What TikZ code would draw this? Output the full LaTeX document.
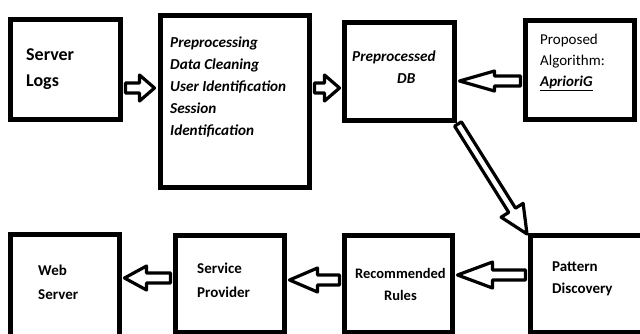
\documentclass[tikz,border=0pt]{standalone}
\usepackage{fontspec}
\setmainfont{Carlito}
\usetikzlibrary{calc}
\tikzset{
  box/.style={draw, line width=5pt, rectangle, inner sep=0pt},
  lab/.style={anchor=north west, inner sep=0pt, align=left},
  fat/.style n args={3}{draw, line width=3.2pt, fill=white, line join=round,
    to path={let \p1=(\tikztostart), \p2=(\tikztotarget),
      \n1={atan2(\y2-\y1,\x2-\x1)} in
      ($(\p1)+(\n1+90:#1)$) -- ($(\p2)+(\n1+180:#3)+(\n1+90:#1)$)
      -- ($(\p2)+(\n1+180:#3)+(\n1+90:#2)$) -- (\p2)
      -- ($(\p2)+(\n1+180:#3)+(\n1-90:#2)$) -- ($(\p2)+(\n1+180:#3)+(\n1-90:#1)$)
      -- ($(\p1)+(\n1-90:#1)$) -- cycle}}
}
\begin{document}
\begin{tikzpicture}[x=1pt,y=-1pt]
\useasboundingbox (0,0) rectangle (640,333);
\fill[white] (0,0) rectangle (640,333);
\clip (0,0) rectangle (640,333);
% boxes
\node[box, minimum width=110pt, minimum height=100pt] (s1) at (65.5,69.5) {};
\node[box, minimum width=149pt, minimum height=172pt] (s2) at (235,101.5) {};
\node[box, minimum width=110pt, minimum height=98pt] (s3) at (399.5,71.5) {};
\node[box, minimum width=109pt, minimum height=99pt] (s4) at (580,70) {};
\node[box, minimum width=109pt, minimum height=103pt] (s5) at (65,286) {};
\node[box, minimum width=109pt, minimum height=96.5pt] (s6) at (230,283.75) {};
\node[box, minimum width=108pt, minimum height=96.5pt] (s7) at (398.5,283.75) {};
\node[box, minimum width=127pt, minimum height=96.5pt] (s8) at (594,283.75) {};
% labels
\node[lab, font=\fontsize{18}{26}\selectfont\bfseries] (t1) at (26,48) {Server\\Logs};
\node[lab, font=\fontsize{15.2}{22}\selectfont\bfseries\itshape] (t2) at (170,37) {Preprocessing\\Data Cleaning\\User Identification\\Session\\Identification};
\node[lab, font=\fontsize{15.2}{22}\selectfont\bfseries\itshape] (t3) at (352,51) {Preprocessed\\\hspace*{45pt}DB};
\node[lab, font=\fontsize{15}{21}\selectfont] (t4) at (540,34) {Proposed\\Algorithm:\\\textbf{\textit{\underline{AprioriG}}}};
\node[lab, font=\fontsize{15}{24}\selectfont\bfseries] (t5) at (38,265) {Web\\Server};
\node[lab, font=\fontsize{15}{24}\selectfont\bfseries] (t6) at (197,263) {Service\\Provider};
\node[lab, font=\fontsize{14.5}{22}\selectfont\bfseries, align=center] (t7) at (355,268) {Recommended\\Rules};
\node[lab, font=\fontsize{15}{22}\selectfont\bfseries] (t8) at (552,262) {Pattern\\Discovery};
% arrows
\draw[fat={5pt}{13pt}{15pt}] ([xshift=2.5pt,yshift=-18.5pt]s1.east) to ([xshift=-3.5pt,yshift=13.5pt]s2.west);
\draw[fat={5pt}{13pt}{15pt}] ([xshift=2.5pt,yshift=13.5pt]s2.east) to ([xshift=-2.5pt,yshift=-16.5pt]s3.west);
\draw[fat={5pt}{10pt}{35pt}] ([xshift=-2.5pt,yshift=-11pt]s4.west) to ([xshift=2.5pt,yshift=-9.5pt]s3.east);
\draw[fat={4pt}{13pt}{28pt}] ([shift={(1pt,-1pt)}]s3.south east) to ([shift={(-1pt,-1pt)}]s8.north west);
\draw[fat={5pt}{13pt}{35pt}] ([xshift=-2.5pt,yshift=8.75pt]s8.west) to ([xshift=2.5pt,yshift=8.75pt]s7.east);
\draw[fat={5pt}{12pt}{28pt}] ([xshift=-2.5pt,yshift=3.75pt]s7.west) to ([xshift=2.5pt,yshift=3.75pt]s6.east);
\draw[fat={5pt}{12pt}{22pt}] ([xshift=-2.5pt,yshift=5.75pt]s6.west) to ([xshift=2.5pt,yshift=8pt]s5.east);
\end{tikzpicture}
\end{document}
